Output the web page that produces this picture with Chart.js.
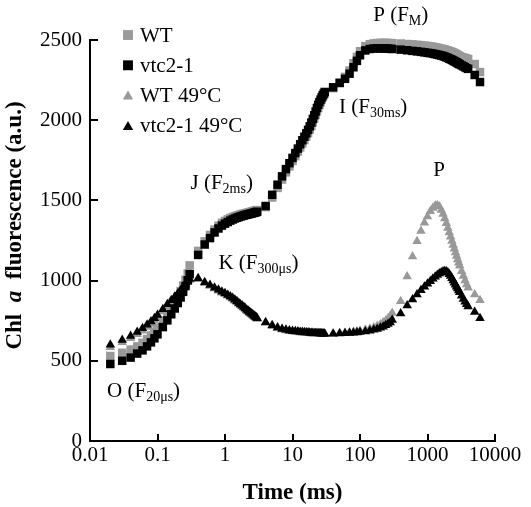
<!DOCTYPE html>
<html>
<head>
<meta charset="utf-8">
<script src="https://cdn.jsdelivr.net/npm/chart.js@4.4.0/dist/chart.umd.min.js"></script>
<style>
  html, body { margin: 0; padding: 0; background: #fff; }
  #wrap { width: 531px; height: 507px; }
</style>
</head>
<body>
<div id="wrap"><canvas id="chart" width="531" height="507"></canvas></div>
<script>
// time points (ms)
const times = [
  0.02, 0.03, 0.04, 0.05, 0.06, 0.07, 0.08, 0.09, 0.1, 0.12, 0.14, 0.16, 0.18, 0.2, 0.22, 0.24, 0.26, 0.28, 0.3,
  0.4, 0.5, 0.6, 0.7, 0.8, 0.9, 1, 1.1, 1.2, 1.3, 1.4, 1.5, 1.6, 1.7, 1.8, 1.9, 2, 2.1, 2.2, 2.3, 2.4, 2.5, 2.6, 2.7, 2.8, 2.9, 3,
  4, 5, 6, 7, 8, 9, 10, 11, 12, 13, 14, 15, 16, 17, 18, 19, 20, 21, 22, 23, 24, 25, 26, 27, 28, 29, 30,
  40, 50, 60, 70, 80, 90, 100, 120, 140, 160, 180, 200, 220, 240, 260, 280, 300,
  400, 500, 600, 700, 800, 900, 1000, 1100, 1200, 1300, 1400, 1500, 1600, 1700, 1800, 1900, 2000, 2100, 2200, 2300, 2400, 2500, 2600, 2700, 2800, 2900, 3000, 3200, 3400, 3600, 3800, 4000,
  5000, 6000
];

const wt = [
  530, 550, 570, 590, 612, 635, 658, 682, 705, 750, 792, 830, 866, 900, 935, 970, 1005, 1045, 1095,
  1185, 1245, 1285, 1318, 1342, 1360, 1372, 1382, 1390, 1396, 1401, 1405, 1409, 1412, 1415, 1418, 1420, 1422, 1424, 1426, 1428, 1430, 1432, 1434, 1436, 1438, 1440,
  1458, 1518, 1578, 1630, 1675, 1712, 1746, 1776, 1804, 1830, 1855, 1877, 1898, 1920, 1942, 1964, 1987, 2010, 2033, 2055, 2076, 2095, 2112, 2128, 2142, 2155, 2166,
  2200, 2235, 2270, 2310, 2355, 2395, 2430, 2462, 2474, 2479, 2481, 2482, 2482, 2482, 2481, 2481, 2480,
  2478, 2475, 2473, 2470, 2468, 2465, 2463, 2461, 2458, 2455, 2452, 2449, 2446, 2443, 2440, 2437, 2434, 2431, 2428, 2425, 2422, 2418, 2414, 2410, 2406, 2402, 2398, 2394, 2390, 2387, 2384, 2381,
  2350, 2300
];

const vtc = [
  480, 500, 520, 545, 565, 590, 615, 640, 665, 710, 752, 790, 826, 860, 895, 930, 966, 1002, 1040,
  1160, 1225, 1265, 1300, 1325, 1343, 1355, 1365, 1374, 1381, 1387, 1392, 1396, 1400, 1403, 1406, 1409, 1411, 1413, 1415, 1417, 1419, 1421, 1423, 1425, 1427, 1429,
  1465, 1535, 1598, 1650, 1695, 1732, 1765, 1795, 1823, 1850, 1875, 1897, 1918, 1940, 1962, 1985, 2008, 2031, 2054, 2076, 2096, 2113, 2128, 2142, 2155, 2166, 2176,
  2205, 2232, 2258, 2290, 2330, 2370, 2405, 2435, 2444, 2447, 2448, 2448, 2447, 2447, 2446, 2445, 2444,
  2440, 2436, 2432, 2429, 2426, 2423, 2420, 2418, 2415, 2412, 2409, 2406, 2403, 2400, 2396, 2392, 2388, 2384, 2380, 2376, 2372, 2368, 2364, 2360, 2356, 2352, 2348, 2342, 2336, 2330, 2325, 2320,
  2282, 2238
];

const wt49 = [
  585, 615, 640, 665, 688, 710, 730, 750, 770, 808, 840, 866, 890, 910, 930, 952, 972, 990, 1003,
  1008, 984, 966, 950, 937, 925, 915, 905, 895, 885, 875, 865, 855, 846, 838, 830, 822, 814, 807, 800, 794, 788, 782, 776, 771, 766, 761,
  735, 716, 703, 695, 689, 685, 682, 680, 678, 676, 675, 674, 673, 672, 671, 670, 670, 669, 669, 668, 668, 668, 668, 668, 668, 668, 668,
  669, 671, 673, 676, 679, 682, 686, 693, 700, 708, 717, 727, 738, 750, 764, 780, 798,
  872, 1025, 1150, 1245, 1310, 1360, 1400, 1432, 1453, 1466, 1470, 1462, 1440, 1415, 1387, 1358, 1328, 1300, 1273, 1247, 1222, 1198, 1175, 1153, 1132, 1112, 1093, 1058, 1028, 1000, 976, 955,
  914, 878
];

const vtc49 = [
  600, 630, 655, 680, 703, 725, 745, 765, 785, 822, 852, 878, 900, 920, 940, 960, 980, 998, 1010,
  1015, 990, 972, 956, 943, 931, 921, 911, 901, 891, 881, 871, 861, 851, 843, 835, 827, 819, 812, 805, 799, 793, 787, 781, 776, 771, 766,
  740, 721, 707, 699, 693, 689, 686, 684, 682, 680, 679, 678, 677, 676, 675, 674, 673, 672, 672, 671, 671, 670, 670, 670, 669, 669, 669,
  669, 670, 671, 673, 675, 677, 679, 683, 688, 693, 699, 706, 713, 721, 729, 738, 755,
  795, 845, 882, 913, 940, 961, 980, 996, 1011, 1024, 1035, 1044, 1051, 1056, 1058, 1056, 1050, 1040, 1028, 1014, 1000, 987, 974, 962, 950, 938, 927, 906, 886, 868, 852, 838,
  804, 766
];

const xTicks = [0.01, 0.1, 1, 10, 100, 1000, 10000];
const xTickLabels = ["0.01", "0.1", "1", "10", "100", "1000", "10000"];
const seriesLabels = ["WT", "vtc2-1", "WT 49°C", "vtc2-1 49°C"];

// phase labels: [main, subscript, time, value]
const phaseLabels = [
  ["O (F", "20μs", 0.0179, 274],
  ["K (F", "300μs", 0.80, 1072],
  ["J (F", "2ms", 0.308, 1570],
  ["I (F", "30ms", 49, 2043],
  ["P (F", "M", 157, 2617],
  ["P", "", 1216, 1651]
];

const GRAY = "#999999";
const BLACK = "#000000";
const SERIF = "'Liberation Serif', 'Times New Roman', serif";

Chart.defaults.font.family = SERIF;
Chart.defaults.color = BLACK;

function makeSet(label, values, style, color, radius, order) {
  return {
    label: label,
    data: times.map((t, i) => ({ x: t, y: values[i] })),
    pointStyle: style,
    pointRadius: radius,
    pointHoverRadius: radius,
    backgroundColor: color,
    borderColor: color,
    borderWidth: 0,
    showLine: false,
    clip: false,
    order: order,
  };
}

function drawMarker(ctx, style, x, y, r, color) {
  ctx.fillStyle = color;
  ctx.beginPath();
  if (style === "rect") {
    const s = r * Math.SQRT1_2;
    ctx.rect(x - s, y - s, 2 * s, 2 * s);
  } else {
    ctx.moveTo(x, y - r);
    ctx.lineTo(x + r * 0.866, y + r * 0.5);
    ctx.lineTo(x - r * 0.866, y + r * 0.5);
    ctx.closePath();
  }
  ctx.fill();
}

const extras = {
  id: "extras",
  afterDraw(chart) {
    const ctx = chart.ctx;
    const area = chart.chartArea;
    const xs = chart.scales.x;
    const ys = chart.scales.y;
    ctx.save();

    // inward tick marks
    ctx.strokeStyle = BLACK;
    ctx.lineWidth = 2;
    ctx.beginPath();
    xTicks.forEach((v) => {
      const px = Math.round(xs.getPixelForValue(v));
      ctx.moveTo(px, area.bottom);
      ctx.lineTo(px, area.bottom - 7);
    });
    ys.ticks.forEach((t) => {
      const py = Math.round(ys.getPixelForValue(t.value));
      ctx.moveTo(area.left, py);
      ctx.lineTo(area.left + 8, py);
    });
    ctx.stroke();

    // legend
    const styles = ["rect", "rect", "triangle", "triangle"];
    const colors = [GRAY, BLACK, GRAY, BLACK];
    const radii = [7, 7, 6, 6];
    ctx.font = "21px " + SERIF;
    ctx.textBaseline = "middle";
    ctx.textAlign = "left";
    seriesLabels.forEach((lab, i) => {
      const cy = area.top - 5 + i * 30.3;
      drawMarker(ctx, styles[i], area.left + 38, cy + (i > 1 ? 1 : 0), radii[i], colors[i]);
      ctx.fillStyle = BLACK;
      ctx.fillText(lab, area.left + 50, cy + 1);
    });

    // phase labels
    ctx.textBaseline = "alphabetic";
    phaseLabels.forEach(([main, sub, t, v]) => {
      let x = xs.getPixelForValue(t);
      const y = ys.getPixelForValue(v);
      ctx.fillStyle = BLACK;
      ctx.font = "21px " + SERIF;
      ctx.fillText(main, x, y);
      if (!sub) return;
      x += ctx.measureText(main).width;
      ctx.font = "14px " + SERIF;
      ctx.fillText(sub, x, y + 4);
      x += ctx.measureText(sub).width;
      ctx.font = "21px " + SERIF;
      ctx.fillText(")", x, y);
    });

    // y axis title with italic "a"
    const parts = [
      ["bold 23px " + SERIF, "Chl  "],
      ["bold italic 23px " + SERIF, "a"],
      ["bold 23px " + SERIF, "  fluorescence (a.u.)"]
    ];
    let total = 0;
    parts.forEach((p) => { ctx.font = p[0]; total += ctx.measureText(p[1]).width; });
    ctx.translate(15, (area.top + area.bottom) / 2 - 15);
    ctx.rotate(-Math.PI / 2);
    ctx.textBaseline = "middle";
    let px = -total / 2;
    parts.forEach((p) => {
      ctx.font = p[0];
      ctx.fillText(p[1], px, 0);
      px += ctx.measureText(p[1]).width;
    });
    ctx.restore();
  }
};

new Chart(document.getElementById("chart"), {
  type: "scatter",
  data: {
    datasets: [
      makeSet(seriesLabels[0], wt, "rect", GRAY, 6, 4),
      makeSet(seriesLabels[1], vtc, "rect", BLACK, 6, 2),
      makeSet(seriesLabels[2], wt49, "triangle", GRAY, 5.5, 3),
      makeSet(seriesLabels[3], vtc49, "triangle", BLACK, 5.5, 1),
    ],
  },
  options: {
    responsive: false,
    animation: false,
    layout: { padding: { top: 40, right: 36, left: 0, bottom: 0 } },
    plugins: {
      legend: { display: false },
      tooltip: { enabled: false },
    },
    scales: {
      x: {
        type: "logarithmic",
        min: 0.01,
        max: 10000,
        afterBuildTicks: (scale) => {
          scale.ticks = xTicks.map((v) => ({ value: v }));
        },
        afterFit: (scale) => { scale.height = 66; },
        ticks: {
          autoSkip: false,
          maxRotation: 0,
          padding: 2,
          color: BLACK,
          font: { family: SERIF, size: 21 },
          callback: (value, index) => xTickLabels[index],
        },
        grid: { display: false, drawTicks: false },
        border: { display: true, color: BLACK, width: 2 },
        title: {
          display: true,
          text: "Time (ms)",
          color: BLACK,
          font: { family: SERIF, size: 23, weight: "bold" },
          padding: { top: 0, bottom: 0 },
        },
      },
      y: {
        min: 0,
        max: 2500,
        afterFit: (scale) => { scale.width = 90; },
        ticks: {
          stepSize: 500,
          padding: 8,
          color: BLACK,
          font: { family: SERIF, size: 21 },
          callback: (value) => String(value),
        },
        grid: { display: false, drawTicks: false },
        border: { display: true, color: BLACK, width: 2 },
      },
    },
  },
  plugins: [extras],
});
</script>
</body>
</html>
